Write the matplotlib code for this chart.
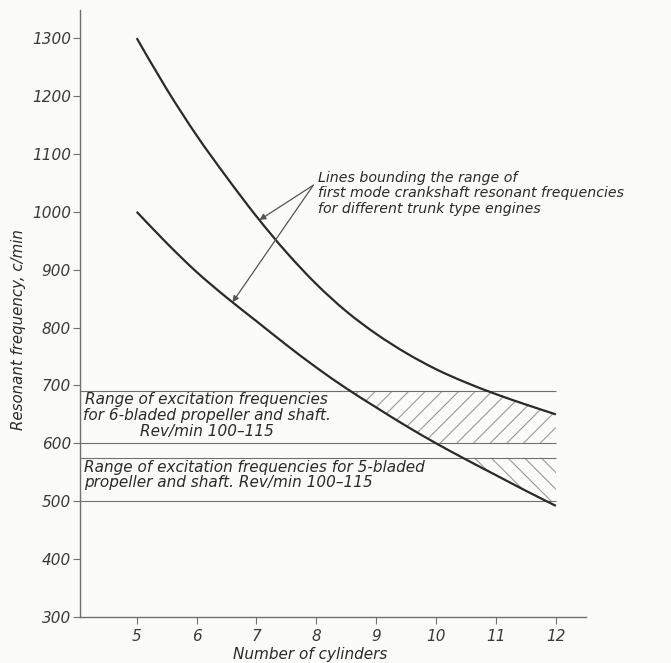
import numpy as np
import matplotlib
matplotlib.use("Agg")
import matplotlib.pyplot as plt
from matplotlib.path import Path
from matplotlib.patches import PathPatch

# Number of cylinders at which the bounding curves are read
cylinders = [5, 5.5, 6, 6.5, 7, 7.5, 8, 8.5, 9, 9.5, 10, 10.5, 11, 11.5, 12]
# Upper and lower bounds of first-mode crankshaft resonant frequency (c/min)
upper_bound = [1300, 1212, 1132, 1060, 992, 930, 875, 828, 789, 756, 728, 705, 685, 667, 650]
lower_bound = [1000, 946, 896, 852, 811, 770, 731, 695, 662, 630, 600, 572, 545, 518, 492]

# Excitation frequency bands (c/min): blades x rev/min 100-115
band_6_blade = (600, 690)
band_5_blade = (500, 575)

x_ticks = [5, 6, 7, 8, 9, 10, 11, 12]
y_ticks = [300, 400, 500, 600, 700, 800, 900, 1000, 1100, 1200, 1300]

ink = "#2a2a2a"
grey = "#707070"
hatch_grey = "#9a9a9a"
paper = "#fbfbf7"

plt.rcParams["font.family"] = ["DejaVu Sans"]
plt.rcParams["font.style"] = "oblique"
plt.rcParams["hatch.linewidth"] = 0.8


def smooth_path(xv, yv):
    """Catmull-Rom curve through the given points as cubic Bezier segments."""
    pts = np.column_stack([xv, yv]).astype(float)
    ext = np.vstack([pts[0], pts, pts[-1]])
    verts = [pts[0]]
    codes = [Path.MOVETO]
    for i in range(1, len(ext) - 2):
        p0, p1, p2, p3 = ext[i - 1], ext[i], ext[i + 1], ext[i + 2]
        verts += [p1 + (p2 - p0) / 6, p2 - (p3 - p1) / 6, p2]
        codes += [Path.CURVE4] * 3
    return Path(verts, codes)


fig = plt.figure(figsize=(6.71, 6.63), dpi=100, facecolor=paper)
ax = fig.add_axes([0.119, 0.0694, 0.754, 0.915], facecolor=paper)

x0, x1 = 4.05, 12.5
ax.set_xlim(x0, x1)
ax.set_ylim(300, 1348)

# Band boundary lines
for lvl in band_6_blade + band_5_blade:
    ax.hlines(lvl, x0, max(cylinders), color=grey, lw=0.8, zorder=2)

# Hatched overlap regions
xs = np.linspace(min(cylinders), max(cylinders), 800)
up = np.interp(xs, cylinders, upper_bound)
lo = np.interp(xs, cylinders, lower_bound)
lo6 = np.clip(lo, *band_6_blade)
up6 = np.clip(up, *band_6_blade)
ax.fill_between(xs, lo6, up6, where=up6 > lo6, facecolor="none",
                edgecolor=hatch_grey, hatch="//", linewidth=0, zorder=1)
lo5 = np.clip(lo, *band_5_blade)
ax.fill_between(xs, lo5, band_5_blade[1], where=lo5 < band_5_blade[1],
                facecolor="none", edgecolor=hatch_grey, hatch="\\\\",
                linewidth=0, zorder=1)

# Bounding curves
for curve in (upper_bound, lower_bound):
    ax.add_patch(PathPatch(smooth_path(cylinders, curve), facecolor="none",
                           edgecolor=ink, lw=1.6, zorder=3))

# Annotation with arrows to both curves
txt_xy = (7.95, 1046)
ax.text(8.03, 1071, "Lines bounding the range of\nfirst mode crankshaft resonant frequencies\n"
        "for different trunk type engines", fontsize=10.2, color=ink,
        ha="left", va="top", linespacing=1.15)
for xa, curve in ((7.05, upper_bound), (6.6, lower_bound)):
    ya = float(np.interp(xa, cylinders, curve))
    ax.annotate("", xy=(xa, ya), xytext=txt_xy,
                arrowprops=dict(arrowstyle="-|>", color="#555555", lw=0.9,
                                mutation_scale=9, shrinkA=0, shrinkB=0))

# Band labels
ax.text(4.1, 688, "Range of excitation frequencies\nfor 6-bladed propeller and shaft.\n"
        "Rev/min 100\u2013115", fontsize=11, color=ink, ha="left", va="top",
        multialignment="center", linespacing=1.08)
ax.text(4.12, 572, "Range of excitation frequencies for 5-bladed\n"
        "propeller and shaft. Rev/min 100\u2013115", fontsize=11, color=ink,
        ha="left", va="top", linespacing=1.08)

# Axes styling
for side in ("top", "right"):
    ax.spines[side].set_visible(False)
for side in ("left", "bottom"):
    ax.spines[side].set_color(grey)
    ax.spines[side].set_linewidth(1.0)
ax.set_xticks(x_ticks)
ax.set_yticks(y_ticks)
ax.tick_params(axis="both", direction="out", length=5, width=0.8, color=grey,
               labelcolor="#3a3a3a", labelsize=11)
ax.tick_params(axis="y", pad=1.5)

ax.set_xlabel("Number of cylinders", fontsize=11, color=ink)
ax.xaxis.set_label_coords(0.455, -0.05)
ax.set_ylabel("Resonant frequency, c/min", fontsize=10.8, color=ink)
ax.yaxis.set_label_coords(-0.107, 0.473)

fig.savefig("out.png", dpi=100, facecolor=paper)
